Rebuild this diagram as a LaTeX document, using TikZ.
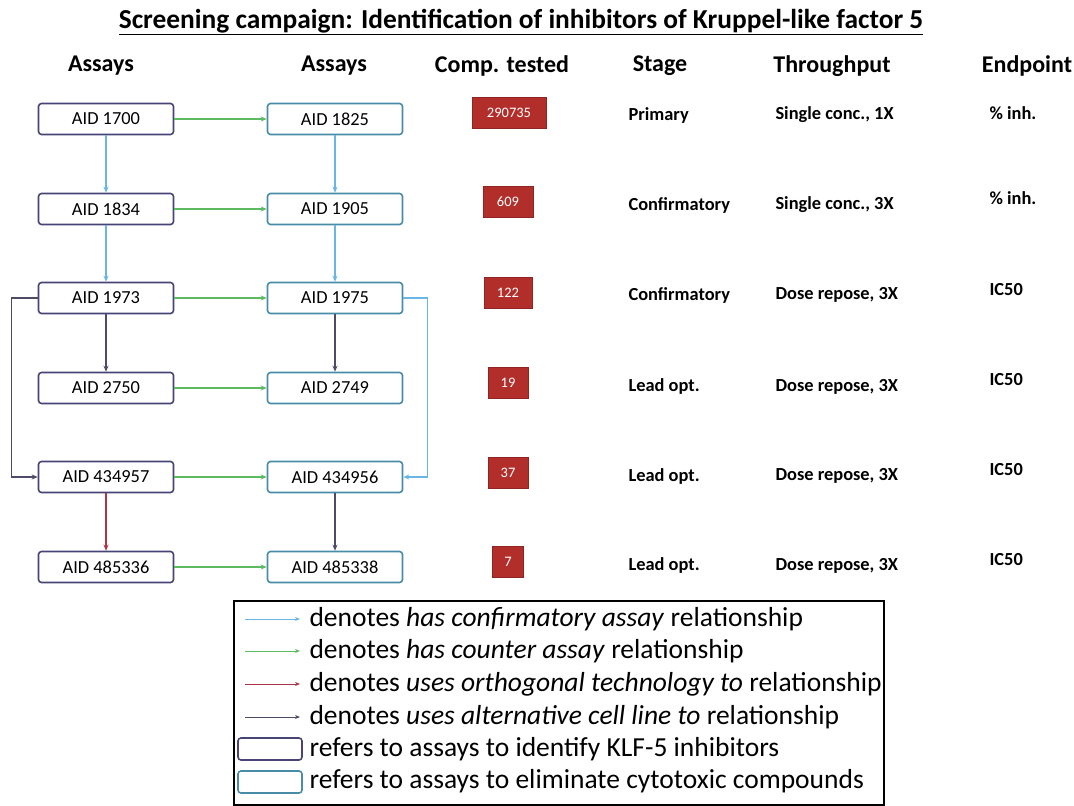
\documentclass[tikz,border=0pt]{standalone}
\usepackage{fontspec}
\setmainfont{Carlito}
\usetikzlibrary{arrows.meta}
\definecolor{klfbox}{RGB}{72,68,118}
\definecolor{toxbox}{RGB}{72,140,168}
\definecolor{confarr}{RGB}{105,182,228}
\definecolor{countarr}{RGB}{92,186,96}
\definecolor{orthoarr}{RGB}{172,52,72}
\definecolor{cellarr}{RGB}{78,74,104}
\definecolor{hitred}{RGB}{178,46,42}
\tikzset{
  assay/.style={draw,rounded corners=3pt,line width=1.6pt,minimum width=135pt,
    minimum height=31pt,inner sep=0pt,font=\fontsize{18.4}{21}\selectfont},
  klf/.style={assay,draw=klfbox},
  tox/.style={assay,draw=toxbox},
  hits/.style={fill=hitred,draw=hitred!80!black,text=white,minimum height=31pt,
    inner sep=0pt,font=\fontsize{14.5}{17}\selectfont},
  head/.style={font=\bfseries\fontsize{24}{28}\selectfont},
  info/.style={anchor=west,font=\bfseries\fontsize{18.4}{21}\selectfont},
  link/.style={line width=1.4pt,-{Stealth[length=6pt,width=5pt]}},
  key/.style={line width=1pt,-{Stealth[length=5pt,width=4pt]}},
  keytext/.style={anchor=west,font=\fontsize{27.5}{31}\selectfont},
}
\begin{document}
\begin{tikzpicture}[x=1pt,y=-1pt]
\useasboundingbox (0,0) rectangle (1074,806);
% title and column heads
\node[font=\bfseries\fontsize{27.4}{31}\selectfont] (title) at (521,22) {\underline{Screening campaign: Identification of inhibitors of Kruppel-like factor 5}};
\node[head] (h1) at (101,66) {Assays};
\node[head] (h2) at (334,66) {Assays};
\node[head] (h3) at (502,66) {Comp. tested};
\node[head] (h4) at (660,66) {Stage};
\node[head] (h5) at (832,66) {Throughput};
\node[head] (h6) at (1027,66) {Endpoint};
% assays
\node[klf] (a1700) at (106,119) {AID 1700};
\node[klf] (a1834) at (106,209) {AID 1834};
\node[klf] (a1973) at (106,298) {AID 1973};
\node[klf] (a2750) at (106,388) {AID 2750};
\node[klf] (a434957) at (106,477) {AID 434957};
\node[klf] (a485336) at (106,567) {AID 485336};
\node[tox] (a1825) at (335,119) {AID 1825};
\node[tox] (a1905) at (335,209) {AID 1905};
\node[tox] (a1975) at (335,298) {AID 1975};
\node[tox] (a2749) at (335,388) {AID 2749};
\node[tox] (a434956) at (335,477) {AID 434956};
\node[tox] (a485338) at (335,567) {AID 485338};
% compounds tested
\node[hits,minimum width=74pt] (n1) at (509,113) {290735};
\node[hits,minimum width=50pt] (n2) at (508,202) {609};
\node[hits,minimum width=48pt] (n3) at (508,293) {122};
\node[hits,minimum width=40pt] (n4) at (508,383) {19};
\node[hits,minimum width=40pt] (n5) at (508,473) {37};
\node[hits,minimum width=31pt] (n6) at (508,562) {7};
% stage, throughput, endpoint
\node[info] (s1) at (625,115) {Primary};
\node[info] (s2) at (625,205) {Confirmatory};
\node[info] (s3) at (625,295) {Confirmatory};
\node[info] (s4) at (625,386) {Lead opt.};
\node[info] (s5) at (625,476) {Lead opt.};
\node[info] (s6) at (625,565) {Lead opt.};
\node[info] (t1) at (772,115) {Single conc., 1X};
\node[info] (t2) at (772,205) {Single conc., 3X};
\node[info] (t3) at (772,295) {Dose repose, 3X};
\node[info] (t4) at (772,387) {Dose repose, 3X};
\node[info] (t5) at (772,476) {Dose repose, 3X};
\node[info] (t6) at (772,566) {Dose repose, 3X};
\node[info] (e1) at (986,113) {\% inh.};
\node[info] (e2) at (986,198) {\% inh.};
\node[info] (e3) at (986,290) {IC50};
\node[info] (e4) at (986,380) {IC50};
\node[info] (e5) at (986,470) {IC50};
\node[info] (e6) at (986,560) {IC50};
% relationships
\draw[link,countarr] (a1700) -- (a1825);
\draw[link,countarr] (a1834) -- (a1905);
\draw[link,countarr] (a1973) -- (a1975);
\draw[link,countarr] (a2750) -- (a2749);
\draw[link,countarr] (a434957) -- (a434956);
\draw[link,countarr] (a485336) -- (a485338);
\draw[link,confarr] (a1700) -- (a1834);
\draw[link,confarr] (a1834) -- (a1973);
\draw[link,confarr] (a1825) -- (a1905);
\draw[link,confarr] (a1905) -- (a1975);
\draw[link,confarr] (a1975.east) -- ++(24,0) |- (a434956.east);
\draw[link,cellarr] (a1973) -- (a2750);
\draw[link,cellarr] (a1975) -- (a2749);
\draw[link,cellarr] (a434956) -- (a485338);
\draw[link,cellarr] (a1973.west) -- ++(-26,0) |- (a434957.west);
\draw[link,orthoarr] (a434957) -- (a485336);
% legend
\draw[line width=2.5pt] (234,601) rectangle (884,805);
\node[keytext] (l1) at (306,619) {denotes \emph{has confirmatory assay} relationship};
\node[keytext] (l2) at (306,651) {denotes \emph{has counter assay} relationship};
\node[keytext] (l3) at (306,684) {denotes \emph{uses orthogonal technology to} relationship};
\node[keytext] (l4) at (306,717) {denotes \emph{uses alternative cell line to} relationship};
\node[keytext] (l5) at (306,749) {refers to assays to identify KLF-5 inhibitors};
\node[keytext] (l6) at (306,781) {refers to assays to eliminate cytotoxic compounds};
\coordinate (k1) at (245,619);
\coordinate (k2) at (245,651);
\coordinate (k3) at (245,684);
\coordinate (k4) at (245,717);
\draw[key,confarr] (k1) -- ([xshift=-6pt]l1.west);
\draw[key,countarr] (k2) -- ([xshift=-6pt]l2.west);
\draw[key,orthoarr] (k3) -- ([xshift=-6pt]l3.west);
\draw[key,cellarr] (k4) -- ([xshift=-6pt]l4.west);
\draw[klfbox,line width=1.6pt,rounded corners=3pt] (238,738) rectangle (302,760);
\draw[toxbox,line width=1.6pt,rounded corners=3pt] (238,771) rectangle (302,793);
\end{tikzpicture}
\end{document}
